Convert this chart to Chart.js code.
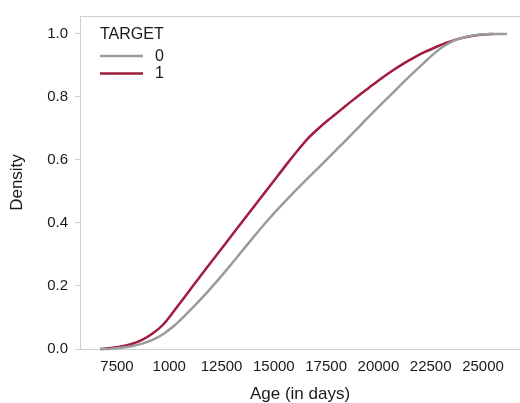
<!DOCTYPE html>
<html>
<head>
<meta charset="utf-8">
<script src="https://cdn.jsdelivr.net/npm/chart.js@4"></script>
<style>
  html, body { margin: 0; padding: 0; background: #fff; }
  #wrap { width: 520px; height: 403px; }
</style>
</head>
<body>
<div id="wrap"><canvas id="ageChart" width="520" height="403"></canvas></div>
<script>
// cumulative density of age (days)
const target0Age = [6700, 7200, 7700, 8200, 8700, 9200, 9700, 10200, 10700, 11200, 11700, 12200, 12700, 13200, 13700, 14200, 14700, 15200, 15700, 16200, 16700, 17200, 17700, 18200, 18700, 19200, 19700, 20200, 20700, 21200, 21700, 22200, 22700, 23200, 23700, 24200, 24700, 25200, 25700, 26150];
const target0Cdf = [0.0, 0.001, 0.004, 0.009, 0.017, 0.029, 0.047, 0.072, 0.103, 0.137, 0.172, 0.209, 0.248, 0.288, 0.329, 0.369, 0.408, 0.445, 0.48, 0.514, 0.547, 0.58, 0.613, 0.646, 0.68, 0.714, 0.748, 0.781, 0.814, 0.847, 0.879, 0.91, 0.94, 0.964, 0.981, 0.991, 0.997, 0.999, 1.0, 1.0];

const target1Age = [6700, 7200, 7700, 8200, 8700, 9200, 9700, 10200, 10700, 11200, 11700, 12200, 12700, 13200, 13700, 14200, 14700, 15200, 15700, 16200, 16700, 17200, 17700, 18200, 18700, 19200, 19700, 20200, 20700, 21200, 21700, 22200, 22700, 23200, 23700, 24200, 24700, 25200, 25500];
const target1Cdf = [0.0, 0.003, 0.008, 0.016, 0.029, 0.049, 0.077, 0.118, 0.162, 0.206, 0.25, 0.293, 0.336, 0.379, 0.422, 0.465, 0.508, 0.551, 0.594, 0.635, 0.673, 0.704, 0.732, 0.759, 0.786, 0.812, 0.837, 0.862, 0.885, 0.906, 0.925, 0.942, 0.957, 0.971, 0.982, 0.99, 0.996, 0.999, 1.0];

const xTickValues = [7500, 10000, 12500, 15000, 17500, 20000, 22500, 25000];
const xTickLabels = ["7500", "1000", "12500", "15000", "17500", "20000", "22500", "25000"];
const yTickValues = [0, 0.2, 0.4, 0.6, 0.8, 1.0];

const FONT = "'Liberation Sans', Arial, Helvetica, sans-serif";
const TEXT = "#1a1a1a";
const AXIS = "#cfcfcf";

const toPoints = (xs, ys) => xs.map((x, i) => ({ x, y: ys[i] }));

// top border of the frame + legend drawn inside the plot
const framePlugin = {
    id: "frame",
    afterDraw(chart) {
        const { ctx, chartArea } = chart;
        ctx.save();
        ctx.strokeStyle = AXIS;
        ctx.lineWidth = 1;
        ctx.beginPath();
        ctx.moveTo(chartArea.left, chartArea.top + 0.5);
        ctx.lineTo(chartArea.right, chartArea.top + 0.5);
        ctx.stroke();

        const x0 = chartArea.left + 20;
        ctx.fillStyle = TEXT;
        ctx.font = "16px " + FONT;
        ctx.textBaseline = "middle";
        ctx.textAlign = "left";
        ctx.fillText("TARGET", x0, chartArea.top + 19);
        chart.data.datasets.forEach((ds, i) => {
            const y = chartArea.top + 40 + i * 17.5;
            ctx.strokeStyle = ds.borderColor;
            ctx.lineWidth = 2.5;
            ctx.beginPath();
            ctx.moveTo(x0, y);
            ctx.lineTo(x0 + 43, y);
            ctx.stroke();
            ctx.fillText(ds.label, x0 + 55, y + 0.5);
        });
        ctx.restore();
    }
};

const ctx = document.getElementById("ageChart").getContext("2d");
new Chart(ctx, {
    type: "line",
    data: {
        datasets: [{
            label: "0",
            data: toPoints(target0Age, target0Cdf),
            borderColor: "#9b9b9b",
            borderWidth: 2.5,
            pointRadius: 0,
            cubicInterpolationMode: "monotone",
            clip: false
        }, {
            label: "1",
            data: toPoints(target1Age, target1Cdf),
            borderColor: "#a11c3e",
            borderWidth: 2.5,
            pointRadius: 0,
            cubicInterpolationMode: "monotone",
            clip: false
        }]
    },
    options: {
        responsive: false,
        animation: false,
        layout: { padding: 0 },
        plugins: { legend: { display: false }, tooltip: { enabled: false } },
        scales: {
            x: {
                type: "linear",
                min: 5731,
                max: 26770,
                afterBuildTicks: (s) => { s.ticks = xTickValues.map(v => ({ value: v })); },
                afterFit: (s) => { s.height = 54; },
                grid: { display: false, drawTicks: false },
                border: { display: true, color: AXIS, width: 1 },
                ticks: {
                    padding: 9,
                    maxRotation: 0,
                    autoSkip: false,
                    color: TEXT,
                    font: { family: FONT, size: 15 },
                    callback: (v) => xTickLabels[xTickValues.indexOf(v)]
                },
                title: {
                    display: true,
                    text: "Age (in days)",
                    color: TEXT,
                    font: { family: FONT, size: 17, lineHeight: 1 },
                    padding: { top: 0, bottom: 0 }
                }
            },
            y: {
                min: 0,
                max: 1.057,
                afterBuildTicks: (s) => { s.ticks = yTickValues.map(v => ({ value: v })); },
                afterFit: (s) => { s.width = 80; },
                grid: { drawOnChartArea: false, drawTicks: true, tickLength: 5, color: AXIS },
                border: { display: true, color: AXIS, width: 1 },
                ticks: {
                    padding: 7,
                    color: TEXT,
                    font: { family: FONT, size: 15 },
                    callback: (v) => Number(v).toFixed(1)
                },
                title: {
                    display: true,
                    text: "Density",
                    color: TEXT,
                    font: { family: FONT, size: 17, lineHeight: 1 },
                    padding: { top: 9, bottom: 0 }
                }
            }
        }
    },
    plugins: [framePlugin]
});
</script>
</body>
</html>
